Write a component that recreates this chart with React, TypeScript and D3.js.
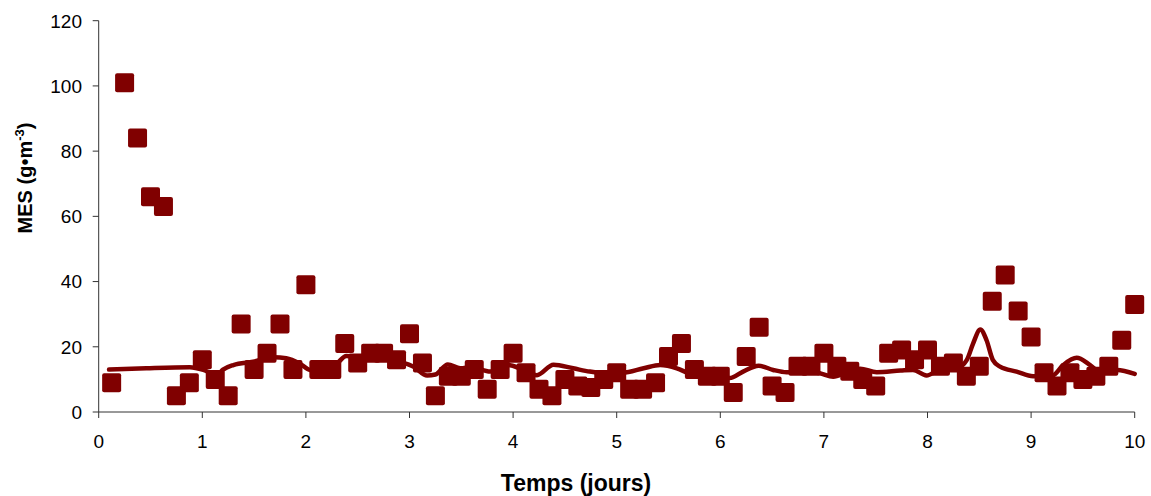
import React from "react";
import * as d3 from "d3";

// Measured suspended solids (MES) over time, every 3 hours
const times = [
  0.125, 0.25, 0.375, 0.5, 0.625, 0.75, 0.875, 1.0, 1.125, 1.25,
  1.375, 1.5, 1.625, 1.75, 1.875, 2.0, 2.125, 2.25, 2.375, 2.5,
  2.625, 2.75, 2.875, 3.0, 3.125, 3.25, 3.375, 3.5, 3.625, 3.75,
  3.875, 4.0, 4.125, 4.25, 4.375, 4.5, 4.625, 4.75, 4.875, 5.0,
  5.125, 5.25, 5.375, 5.5, 5.625, 5.75, 5.875, 6.0, 6.125, 6.25,
  6.375, 6.5, 6.625, 6.75, 6.875, 7.0, 7.125, 7.25, 7.375, 7.5,
  7.625, 7.75, 7.875, 8.0, 8.125, 8.25, 8.375, 8.5, 8.625, 8.75,
  8.875, 9.0, 9.125, 9.25, 9.375, 9.5, 9.625, 9.75, 9.875, 10.0,
];
const mesMeasured = [
  9, 101, 84, 66, 63, 5, 9, 16, 10, 5,
  27, 13, 18, 27, 13, 39, 13, 13, 21, 15,
  18, 18, 16, 24, 15, 5, 11, 11, 13, 7,
  13, 18, 12, 7, 5, 10, 8, 7.5, 10, 12,
  7, 7, 9, 17, 21, 13, 11, 11, 6, 17,
  26, 8, 6, 14, 14, 18, 14, 12.5, 10, 8,
  18, 19, 16, 19, 14, 15, 11, 14, 34, 42,
  31, 23, 12, 8, 12, 10, 11, 14, 22, 33,
];

// Simulated MES curve
const modelTimes = [
  0.1, 0.46, 0.88, 1.01, 1.14, 1.2, 1.3, 1.49, 1.69, 1.81,
  1.94, 2.04, 2.17, 2.3, 2.39, 2.55, 2.72, 2.91, 3.04, 3.17,
  3.25, 3.37, 3.49, 3.6, 3.78, 3.87, 3.95, 4.1, 4.23, 4.39,
  4.58, 4.74, 4.9, 5.06, 5.26, 5.42, 5.58, 5.71, 5.9, 6.09,
  6.22, 6.37, 6.51, 6.64, 6.83, 6.96, 7.09, 7.22, 7.35, 7.51,
  7.74, 7.86, 7.99, 8.12, 8.28, 8.38, 8.44, 8.51, 8.57, 8.63,
  8.7, 8.86, 9.02, 9.21, 9.31, 9.44, 9.57, 9.66, 9.83, 10.0,
];
const mesModel = [
  13.0, 13.4, 13.7, 12.9, 11.3, 13.0, 14.4, 15.4, 16.8, 16.5,
  14.9, 12.9, 12.7, 14.9, 17.2, 16.8, 16.8, 15.4, 13.9, 11.2,
  11.5, 14.6, 13.4, 13.8, 12.4, 13.4, 14.4, 12.9, 11.3, 14.5,
  13.4, 12.4, 11.9, 12.0, 13.4, 14.4, 13.4, 11.7, 10.6, 10.4,
  12.4, 14.2, 12.9, 12.2, 12.4, 11.9, 10.8, 12.2, 13.3, 12.2,
  12.7, 12.9, 11.2, 12.9, 13.4, 16.0, 21.0, 25.3, 22.0, 16.0,
  13.9, 12.4, 11.0, 11.3, 14.4, 16.6, 14.4, 12.4, 12.9, 11.7,
];

const xTicks = [0, 1, 2, 3, 4, 5, 6, 7, 8, 9, 10];
const yTicks = [0, 20, 40, 60, 80, 100, 120];

const W = 1151;
const H = 496;
const left = 98.7;
const right = 1134.7;
const top = 20.7;
const bottom = 412;
const color = "#800000";
const axisColor = "#333";
const font = "'Liberation Sans', Arial, sans-serif";

export default function App() {
  const x = d3.scaleLinear().domain([0, 10]).range([left, right]);
  const y = d3.scaleLinear().domain([0, 120]).range([bottom, top]);

  const line = d3
    .line<number>()
    .x((_, i) => x(modelTimes[i]))
    .y((d) => y(d))
    .curve(d3.curveMonotoneX);

  const sq = 19;

  return (
    <svg
      width={W}
      height={H}
      style={{ position: "absolute", left: 0, top: 0, display: "block", background: "#fff" }}
    >
      {/* axes */}
      <line x1={left} x2={left} y1={top} y2={bottom} stroke={axisColor} strokeWidth={1} />
      <line x1={left} x2={right} y1={bottom} y2={bottom} stroke={axisColor} strokeWidth={1} />
      {yTicks.map((t) => (
        <g key={"y" + t}>
          <line x1={left - 6} x2={left} y1={y(t)} y2={y(t)} stroke={axisColor} />
          <text
            x={82}
            y={y(t)}
            dy="0.36em"
            textAnchor="end"
            fontFamily={font}
            fontSize={19}
            fill="#000"
          >
            {t}
          </text>
        </g>
      ))}
      {xTicks.map((t) => (
        <g key={"x" + t}>
          <line x1={x(t)} x2={x(t)} y1={bottom} y2={bottom + 6} stroke={axisColor} />
          <text
            x={x(t)}
            y={448}
            textAnchor="middle"
            fontFamily={font}
            fontSize={19}
            fill="#000"
          >
            {t}
          </text>
        </g>
      ))}

      {/* measured points */}
      {mesMeasured.map((v, i) => (
        <rect
          key={"p" + i}
          x={x(times[i]) - sq / 2}
          y={y(v) - sq / 2}
          width={sq}
          height={sq}
          rx={2}
          fill={color}
        />
      ))}

      {/* simulated curve */}
      <path d={line(mesModel) || ""} fill="none" stroke={color} strokeWidth={4.5} strokeLinejoin="round" strokeLinecap="round" />

      {/* axis titles */}
      <text
        x={576}
        y={491}
        textAnchor="middle"
        fontFamily={font}
        fontSize={23}
        fontWeight="bold"
        fill="#000"
      >
        Temps (jours)
      </text>
      <text
        transform="translate(32,178) rotate(-90)"
        textAnchor="middle"
        fontFamily={font}
        fontSize={20}
        fontWeight="bold"
        fill="#000"
      >
        MES (g•m
        <tspan fontSize={13} dy={-8}>-3</tspan>
        <tspan dy={8}>)</tspan>
      </text>
    </svg>
  );
}
